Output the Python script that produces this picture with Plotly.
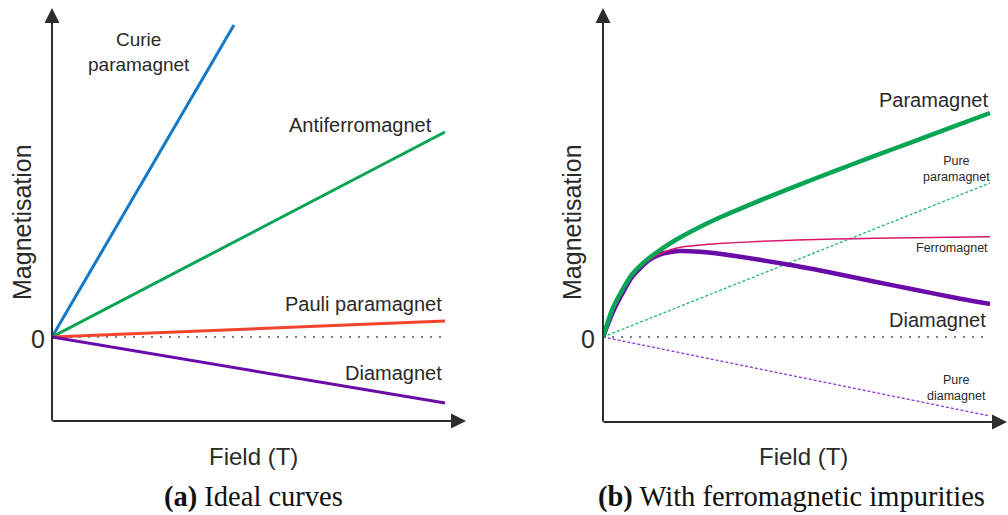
import plotly.graph_objects as go

W, H = 1008, 515

# ---- (a) ideal curves: straight M(H) lines from the origin ----
ideal_names = ["Curie paramagnet", "Antiferromagnet", "Pauli paramagnet", "Diamagnet"]
ideal_field_end = [4.63, 10.0, 10.0, 10.0]
ideal_mag_end = [31.2, 20.5, 1.6, -6.6]
ideal_colors = ["#1479c9", "#06a556", "#f2432e", "#6a0aa8"]

# ---- (b) with ferromagnetic impurities ----
field_b = [0, 0.25, 0.5, 0.75, 1.0, 1.25, 1.5, 1.75, 2.0, 2.5, 3.0,
           4.0, 5.0, 6.0, 7.0, 8.0, 9.0, 10.0]
para_b = [0, 2.85, 4.72, 6.27, 7.27, 8.07, 8.77, 9.4, 9.97, 11.0, 11.92,
          13.57, 15.12, 16.62, 18.08, 19.52, 20.96, 22.4]
ferro_b = [0, 2.75, 4.6, 6.1, 7.12, 7.85, 8.35, 8.72, 8.97, 9.2, 9.35,
           9.55, 9.7, 9.8, 9.87, 9.93, 9.98, 10.03]
dia_b = [0, 2.45, 4.35, 6.0, 7.05, 7.85, 8.3, 8.5, 8.6, 8.52, 8.32,
         7.75, 7.1, 6.35, 5.55, 4.78, 4.0, 3.3]
pure_field = [0, 10.0]
pure_para = [0, 15.4]
pure_dia = [0, -7.9]
zero_line = [0, 0]

C_GREEN = "#06a556"
C_PURPLE = "#6a0aa8"
C_FERRO = "#d6176a"
C_AXIS = "#2d2d2d"


def px(x):
    return x / W


def py(y):
    return 1 - y / H


fig = go.Figure()

# zero reference lines
fig.add_trace(go.Scatter(x=pure_field, y=zero_line, mode="lines",
                         line=dict(color="#555555", width=1.6, dash="2px,7px"),
                         xaxis="x", yaxis="y"))
fig.add_trace(go.Scatter(x=pure_field, y=zero_line, mode="lines",
                         line=dict(color="#555555", width=1.6, dash="2px,7px"),
                         xaxis="x2", yaxis="y2"))

for name, xe, ye, col in zip(ideal_names, ideal_field_end, ideal_mag_end, ideal_colors):
    fig.add_trace(go.Scatter(x=[0, xe], y=[0, ye], mode="lines", name=name,
                             line=dict(color=col, width=3),
                             xaxis="x", yaxis="y"))

fig.add_trace(go.Scatter(x=pure_field, y=pure_para, mode="lines", name="Pure paramagnet",
                         line=dict(color="#1fb86a", width=1.3, dash="3px,2px"),
                         xaxis="x2", yaxis="y2"))
fig.add_trace(go.Scatter(x=pure_field, y=pure_dia, mode="lines", name="Pure diamagnet",
                         line=dict(color="#9544d6", width=1.3, dash="3px,2px"),
                         xaxis="x2", yaxis="y2"))
fig.add_trace(go.Scatter(x=field_b, y=dia_b, mode="lines", name="Diamagnet",
                         line=dict(color=C_PURPLE, width=4.5, shape="spline", smoothing=0.8),
                         xaxis="x2", yaxis="y2"))
fig.add_trace(go.Scatter(x=field_b, y=ferro_b, mode="lines", name="Ferromagnet",
                         line=dict(color=C_FERRO, width=1.5, shape="spline", smoothing=0.8),
                         xaxis="x2", yaxis="y2"))
fig.add_trace(go.Scatter(x=field_b, y=para_b, mode="lines", name="Paramagnet",
                         line=dict(color=C_GREEN, width=4.5, shape="spline", smoothing=0.8),
                         xaxis="x2", yaxis="y2"))

ydom = [py(421), py(8)]
yrng = [-8.4, 32.9]
hidden = dict(visible=False, fixedrange=True)
fig.update_layout(
    width=W, height=H,
    margin=dict(l=0, r=0, t=0, b=0),
    paper_bgcolor="white", plot_bgcolor="rgba(0,0,0,0)",
    showlegend=False,
    xaxis=dict(domain=[px(52), px(466)], range=[0, 414 / 39.3], **hidden),
    yaxis=dict(domain=ydom, range=yrng, **hidden),
    xaxis2=dict(domain=[px(603), 1.0], range=[0, 405 / 38.7], anchor="y2", **hidden),
    yaxis2=dict(domain=ydom, range=yrng, anchor="x2", **hidden),
)

ann = []


def arrow(hx, hy, tx, ty):
    ann.append(dict(x=px(hx), y=py(hy), xref="paper", yref="paper",
                    ax=tx - hx, ay=ty - hy, axref="pixel", ayref="pixel",
                    showarrow=True, arrowhead=2, arrowsize=1.5, arrowwidth=2,
                    arrowcolor=C_AXIS, standoff=0, text=""))


# axes with arrowheads
arrow(52, 8, 52, 422)
arrow(466, 421, 51, 421)
arrow(603, 8, 603, 423)
arrow(1012, 422, 602, 422)

SANS = "Liberation Sans, Arial, sans-serif"


def label(x, y, text, size, xanchor="center", yanchor="middle", align="center",
          angle=0, family=SANS, color="#2a2a2a"):
    ann.append(dict(x=px(x), y=py(y), xref="paper", yref="paper", text=text,
                    showarrow=False, xanchor=xanchor, yanchor=yanchor, align=align,
                    textangle=angle, font=dict(family=family, size=size, color=color)))


# axis titles and zero marks
for xc in (22, 572):
    label(xc, 222, "Magnetisation", 25, angle=-90)
label(38, 339, "0", 25)
label(588, 339, "0", 25)
label(253, 456, "Field (T)", 24)
label(803, 456, "Field (T)", 24)

# curve labels, panel (a)
label(139, 52, "Curie<br>paramagnet", 19)
label(434, 125, "Antiferromagnet", 20, xanchor="right")
label(444, 304, "Pauli paramagnet", 20, xanchor="right")
label(444, 373, "Diamagnet", 20, xanchor="right")

# curve labels, panel (b)
label(990, 100, "Paramagnet", 20, xanchor="right")
label(956, 169, "Pure<br>paramagnet", 12.5)
label(990, 248, "Ferromagnet", 12.5, xanchor="right")
label(988, 320, "Diamagnet", 20, xanchor="right")
label(956, 388, "Pure<br>diamagnet", 12.5)

# sub-captions
SERIF = "Liberation Serif, Times New Roman, serif"
label(253, 497, "<b>(a)</b> Ideal curves", 28.5, family=SERIF, color="#111111")
label(791, 497, "<b>(b)</b> With ferromagnetic impurities", 28.5, family=SERIF, color="#111111")

fig.update_layout(annotations=ann)
fig.write_html("out.html")
